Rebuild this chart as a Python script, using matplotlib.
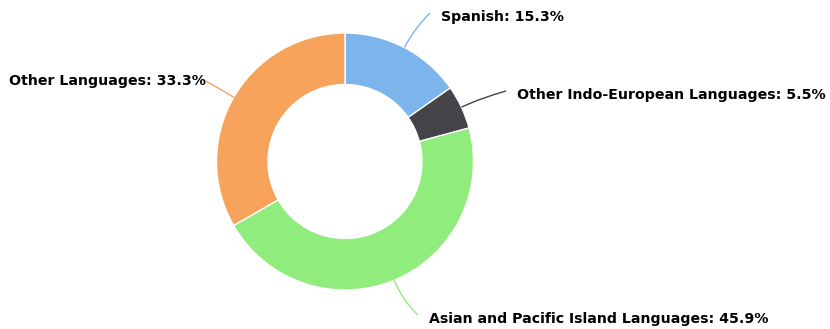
import numpy as np
import matplotlib.pyplot as plt
from matplotlib.path import Path
from matplotlib.patches import PathPatch

labels = ['Spanish', 'Other Indo-European Languages',
          'Asian and Pacific Island Languages', 'Other Languages']
shares = [15.3, 5.5, 45.9, 33.3]
colors = ['#7cb5ec', '#434348', '#90ed7d', '#f7a35c']

W, H = 830, 329
cx, cy = 345, H - 161.5
r_out, r_in = 128.5, 77

# label anchors (pixels from top-left) and alignment
label_pos = [(441, 17, 'left'), (517, 95, 'left'),
             (429, 319, 'left'), (206, 81, 'right')]

fig = plt.figure(figsize=(W / 100, H / 100), dpi=100)
ax = fig.add_axes([0, 0, 1, 1])
ax.pie(shares, colors=colors, startangle=90, counterclock=False,
       radius=r_out, center=(cx, cy),
       wedgeprops=dict(width=r_out - r_in, edgecolor='white', linewidth=1))
ax.set_xlim(0, W)
ax.set_ylim(0, H)
ax.set_aspect('equal')
ax.axis('off')

start = 0.0
for lab, val, col, (lx, ly, ha) in zip(labels, shares, colors, label_pos):
    mid = start + val / 2
    start += val
    ang = np.deg2rad(mid / 100 * 360)
    dx, dy = np.sin(ang), np.cos(ang)
    p0 = (cx + r_out * dx, cy + r_out * dy)
    p1 = (cx + (r_out + 22) * dx, cy + (r_out + 22) * dy)
    ty = H - ly
    p2 = (lx - 11, ty + 4) if ha == 'left' else (lx, ty)
    path = Path([p0, p1, p2], [Path.MOVETO, Path.CURVE3, Path.CURVE3])
    ax.add_patch(PathPatch(path, fill=False, edgecolor=col, lw=1))
    ax.text(lx, ty, f'{lab}: {val}%', ha=ha, va='center',
            fontsize=10.2, fontweight='bold', color='black')

fig.savefig('out.png', dpi=100)
